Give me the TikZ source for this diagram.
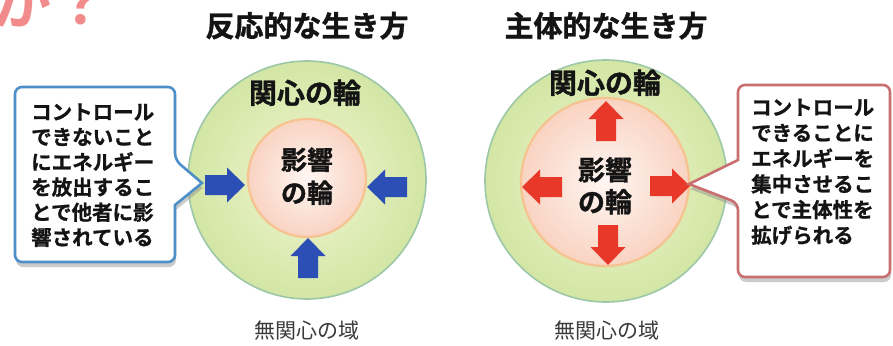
\documentclass[tikz,border=0pt]{standalone}
\usepackage{fontspec}
\setmainfont{Noto Sans CJK JP}[BoldFont={Noto Sans CJK JP Bold}]
\newfontfamily\hvy{Noto Sans CJK JP Bold}[FakeBold=1.3]
\newfontfamily\hvs{Noto Sans CJK JP Bold}[FakeBold=0.9]
\usetikzlibrary{shadows}
\definecolor{gfillin}{HTML}{F0F5D2}
\definecolor{gfillout}{HTML}{D3E6A4}
\definecolor{gline}{HTML}{9CC8A8}
\definecolor{pfillin}{HTML}{FFF6F2}
\definecolor{pfillout}{HTML}{F9D3C2}
\definecolor{pline}{HTML}{F6C290}
\definecolor{barrow}{HTML}{2B4FB5}
\definecolor{rarrow}{HTML}{E8382A}
\definecolor{bbox}{HTML}{4D8FC9}
\definecolor{rbox}{HTML}{C96F70}
\definecolor{pinktxt}{HTML}{F28B8B}
\definecolor{txt}{HTML}{141414}
\definecolor{graytxt}{HTML}{3A3A3A}
\newcommand\blkarr[4]{%
  \begin{scope}[shift={(#1,#2)},rotate=#3]
    \fill[#4] (-20,-10) -- (2,-10) -- (2,-17.5) -- (20,0) -- (2,17.5) -- (2,10) -- (-20,10) -- cycle;
  \end{scope}}
\tikzset{
  outerc/.style={circle,inner sep=0pt,minimum size=#1,inner color=gfillin,outer color=gfillout,draw=gline,line width=1.6pt},
  innerc/.style={circle,inner sep=0pt,minimum size=#1,inner color=pfillin,outer color=pfillout,draw=pline,line width=2.2pt},
  title/.style={font=\hvy\fontsize{29}{29}\selectfont,text=txt,anchor=base,inner sep=0pt},
  ring/.style={font=\hvy\fontsize{#1}{#1}\selectfont,text=txt,anchor=base,inner sep=0pt},
  mukan/.style={font=\fontsize{21}{21}\selectfont,text=graytxt,anchor=base,inner sep=0pt},
  cline/.style={font=\hvs\fontsize{20.5}{20.5}\selectfont,text=txt,anchor=base west,inner sep=0pt},
  callout/.style={fill=white,line width=2.6pt,rounded corners=7pt,
     drop shadow={shadow xshift=1pt,shadow yshift=-5pt,fill=black!45,opacity=0.45}},
}
\begin{document}
\begin{tikzpicture}[x=1pt,y=-1pt]
\useasboundingbox (0,0) rectangle (893,345);
\fill[white] (0,0) rectangle (893,345);

% pink partial text at top-left
\node[font=\bfseries\fontsize{60}{60}\selectfont,text=pinktxt,anchor=base west,inner sep=0pt] (q) at (-9,25) {か？};

% titles
\node[title] (t1) at (307,36.7) {反応的な生き方};
\node[title] (t2) at (606,36.7) {主体的な生き方};

% left circles
\node[outerc=238pt] (oL) at (307,180) {};
\node[innerc=118pt] (iL) at (307,178) {};
\node[ring=28] (kL) at (305,103.4) {関心の輪};
\node[ring=26] (e1L) at (307,169.6) {影響};
\node[ring=26] (e2L) at (307,202.6) {の輪};
\blkarr{225}{185}{0}{barrow}
\blkarr{387}{187}{180}{barrow}
\blkarr{308}{258}{90}{barrow}

% right circles
\node[outerc=242pt] (oR) at (606,181) {};
\node[innerc=168pt] (iR) at (605,182) {};
\node[ring=28] (kR) at (605,93.4) {関心の輪};
\node[ring=27] (e1R) at (605,180) {影響};
\node[ring=27] (e2R) at (605,212) {の輪};
\blkarr{606}{121}{90}{rarrow}
\blkarr{542}{187}{180}{rarrow}
\blkarr{670}{186}{0}{rarrow}
\blkarr{608}{245}{-90}{rarrow}

% bottom labels
\node[mukan] (mL) at (307,338.8) {無関心の域};
\node[mukan] (mR) at (607,338.8) {無関心の域};

% left callout
\coordinate (tipL) at (202,183);
\draw[callout,draw=bbox] (15,87) -- (175,87) -- (175,160) [sharp corners] -- (tipL) -- (175,205) [rounded corners=7pt] -- (175,262) -- (15,262) -- cycle;
\foreach \t [count=\i] in {コントロール,できないこと,にエネルギー,を放出するこ,とで他者に影,響されている}
  \node[cline] (L\i) at (31,{119.6+(\i-1)*25.1}) {\t};

% right callout
\coordinate (tipR) at (689,184);
\draw[callout,draw=rbox] (738,85) -- (890,85) -- (890,277) -- (738,277) -- (738,203) [sharp corners] -- (tipR) -- (738,160) [rounded corners=7pt] -- cycle;
\foreach \t [count=\i] in {コントロール,できることに,エネルギーを,集中させるこ,とで主体性を,拡げられる}
  \node[cline] (R\i) at (751,{115+(\i-1)*25.6}) {\t};
\end{tikzpicture}
\end{document}
